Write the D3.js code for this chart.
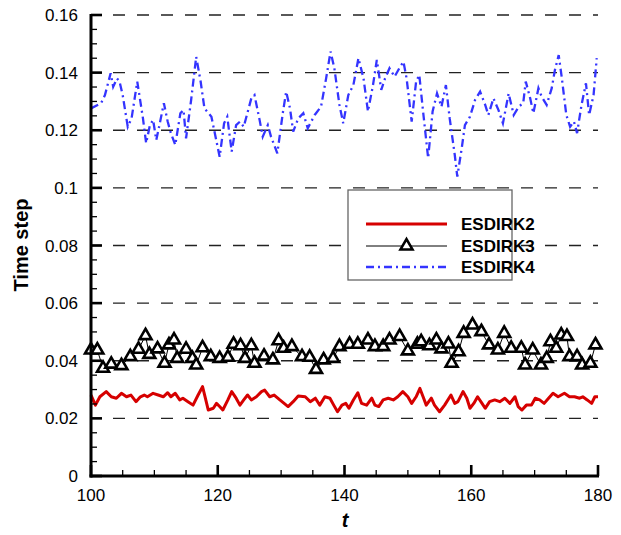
<!DOCTYPE html>
<html>
<head>
<meta charset="utf-8">
<script src="https://cdn.jsdelivr.net/npm/d3@7"></script>
<style>
  html, body { margin: 0; padding: 0; background: #fff; }
  svg { display: block; font-family: "Liberation Sans", Arial, Helvetica, sans-serif; }
</style>
</head>
<body>
<svg id="chart" width="621" height="535"></svg>
<script>
// Time step histories for the three ESDIRK schemes
const esdirk2T = [100,100.7,101.4,102.4,103.2,104.0,104.8,105.6,106.3,107.1,107.8,108.4,108.9,109.8,110.6,111.4,112.1,112.6,113.3,114.0,114.5,115.3,116.1,116.9,117.6,118.0,118.5,119.3,119.8,120.3,120.8,121.6,122.2,122.9,123.5,124.1,124.7,125.3,126.1,126.9,127.4,128.2,128.9,129.8,131.1,131.9,132.7,133.8,134.6,135.4,136.1,136.9,137.7,138.3,138.9,139.6,140.2,140.7,141.4,142.1,142.7,143.5,144.3,144.8,145.4,146.1,146.9,147.7,148.4,149.2,150.0,150.6,151.3,151.9,152.4,152.9,153.7,154.2,155.0,155.8,156.8,157.4,157.9,158.7,159.3,159.8,160.4,161.0,161.7,162.2,162.9,163.7,164.5,165.3,166.1,166.9,167.4,168.0,168.7,169.5,170.1,170.8,171.5,172.2,172.9,173.7,174.7,175.5,176.3,177.1,177.6,178.3,179.0,179.5,180.0];
const esdirk2 = [0.0281,0.0246,0.0275,0.0293,0.0275,0.0270,0.0287,0.0275,0.0281,0.0258,0.0275,0.0281,0.0275,0.0287,0.0281,0.0275,0.0289,0.0275,0.0287,0.0264,0.0270,0.0258,0.0246,0.0281,0.0310,0.0275,0.0229,0.0235,0.0252,0.0241,0.0229,0.0264,0.0293,0.0270,0.0246,0.0264,0.0281,0.0264,0.0275,0.0293,0.0298,0.0275,0.0281,0.0264,0.0241,0.0258,0.0278,0.0275,0.0258,0.0270,0.0246,0.0275,0.0270,0.0246,0.0223,0.0246,0.0252,0.0235,0.0264,0.0289,0.0252,0.0246,0.0270,0.0246,0.0241,0.0264,0.0270,0.0264,0.0275,0.0293,0.0275,0.0252,0.0275,0.0304,0.0275,0.0246,0.0270,0.0246,0.0223,0.0246,0.0281,0.0252,0.0258,0.0293,0.0270,0.0235,0.0252,0.0275,0.0252,0.0235,0.0258,0.0264,0.0258,0.0270,0.0252,0.0275,0.0241,0.0229,0.0246,0.0246,0.0270,0.0264,0.0252,0.0270,0.0287,0.0275,0.0287,0.0275,0.0275,0.0270,0.0275,0.0264,0.0252,0.0275,0.0275];

const esdirk3T = [100,101.0,101.9,103.2,104.8,106.2,107.5,108.6,109.2,110.5,111.6,112.3,113.1,113.6,115.0,116.0,116.6,117.6,118.9,120.3,121.6,122.5,123.6,124.3,125.3,125.8,127.3,128.7,129.6,130.4,131.7,133.3,134.5,135.5,136.7,138.2,139.2,140.8,142.1,143.7,144.8,146.1,147.1,148.7,150.0,151.5,152.1,153.4,154.5,155.3,156.4,156.9,158.0,158.8,160.2,161.6,162.8,164.2,165.2,166.3,167.9,168.5,169.7,171.0,171.9,172.5,173.4,174.2,175.1,175.5,176.7,177.5,178.8,179.6];
const esdirk3 = [0.0437,0.0437,0.0374,0.0388,0.0383,0.0414,0.0440,0.0487,0.0422,0.0441,0.0391,0.0455,0.0472,0.0408,0.0440,0.0408,0.0385,0.0445,0.0414,0.0408,0.0412,0.0457,0.0452,0.0408,0.0452,0.0391,0.0416,0.0403,0.0469,0.0443,0.0449,0.0414,0.0412,0.0370,0.0403,0.0408,0.0449,0.0457,0.0457,0.0472,0.0449,0.0449,0.0472,0.0484,0.0434,0.0457,0.0466,0.0452,0.0472,0.0441,0.0458,0.0391,0.0431,0.0495,0.0524,0.0501,0.0455,0.0437,0.0495,0.0443,0.0443,0.0385,0.0437,0.0385,0.0408,0.0466,0.0443,0.0489,0.0484,0.0414,0.0414,0.0385,0.0391,0.0455];

const esdirk4T = [100,101.6,102.2,103.1,103.5,104.1,104.5,105.0,105.8,106.4,107.3,108.2,108.7,109.3,109.8,110.3,110.8,111.5,112.1,112.6,113.3,114.1,114.6,115.0,115.8,116.6,117.3,117.9,119.0,120.3,121.0,121.5,122.2,122.9,123.5,124.1,125.3,125.8,126.6,127.1,127.9,128.4,129.4,130.3,130.8,131.4,131.9,132.7,133.5,134.2,135.3,136.3,137.1,137.8,138.4,139.2,139.8,140.6,141.4,142.2,143.0,143.7,144.5,145.1,145.8,146.4,147.1,147.9,148.8,149.3,149.8,150.6,151.3,151.8,152.4,153.2,153.9,154.6,155.3,156.0,156.6,157.4,157.8,158.5,159.0,159.8,160.6,161.4,162.2,162.7,163.5,164.3,165.0,165.9,166.7,167.5,168.2,168.6,169.3,169.8,170.6,171.1,171.9,172.7,173.2,173.8,174.3,175.0,175.6,176.2,176.7,177.4,178.1,178.6,179.3,179.8];
const esdirk4 = [0.1276,0.1294,0.1322,0.1398,0.1351,0.1380,0.1369,0.1322,0.1212,0.1241,0.1369,0.1241,0.1155,0.1218,0.1236,0.1166,0.1218,0.1294,0.1230,0.1190,0.1149,0.1259,0.1270,0.1172,0.1305,0.1455,0.1369,0.1276,0.1247,0.1108,0.1224,0.1247,0.1126,0.1218,0.1230,0.1212,0.1311,0.1322,0.1236,0.1178,0.1218,0.1178,0.1120,0.1265,0.1334,0.1276,0.1195,0.1241,0.1259,0.1207,0.1253,0.1282,0.1380,0.1473,0.1415,0.1288,0.1224,0.1322,0.1357,0.1450,0.1380,0.1265,0.1357,0.1444,0.1340,0.1380,0.1415,0.1386,0.1421,0.1438,0.1380,0.1230,0.1369,0.1392,0.1265,0.1103,0.1265,0.1328,0.1282,0.1357,0.1241,0.1114,0.1039,0.1138,0.1218,0.1247,0.1305,0.1334,0.1288,0.1253,0.1311,0.1270,0.1224,0.1328,0.1253,0.1282,0.1294,0.1369,0.1311,0.1259,0.1346,0.1317,0.1288,0.1346,0.1409,0.1461,0.1380,0.1253,0.1212,0.1230,0.1190,0.1288,0.1363,0.1253,0.1322,0.1450];

const xTicks = [100,120,140,160,180];
const yTicks = [0,0.02,0.04,0.06,0.08,0.1,0.12,0.14,0.16];
const yTickLabels = ["0","0.02","0.04","0.06","0.08","0.1","0.12","0.14","0.16"];
const seriesNames = ["ESDIRK2","ESDIRK3","ESDIRK4"];

const svg = d3.select("#chart");
const L = 91, R = 598, T = 15, B = 476;
const x = d3.scaleLinear().domain([100, 180]).range([L, R]);
const y = d3.scaleLinear().domain([0, 0.16]).range([B, T]);

// dashed horizontal grid
svg.append("g").selectAll("line")
  .data(yTicks.filter(d => d > 0))
  .join("line")
  .attr("x1", L).attr("x2", R)
  .attr("y1", d => y(d)).attr("y2", d => y(d))
  .attr("stroke", "#222").attr("stroke-width", 1.4)
  .attr("stroke-dasharray", "12,12").attr("stroke-dashoffset", 2);

// series
const zip = (ts, vs) => ts.map((t, i) => [t, vs[i]]);
const line = d3.line().x(d => x(d[0])).y(d => y(d[1]));

svg.append("path").datum(zip(esdirk2T, esdirk2))
  .attr("d", line).attr("fill", "none")
  .attr("stroke", "#d60000").attr("stroke-width", 3)
  .attr("stroke-linejoin", "round");

const d3pts = zip(esdirk3T, esdirk3);
svg.append("path").datum(d3pts)
  .attr("d", line).attr("fill", "none")
  .attr("stroke", "#000").attr("stroke-width", 1);

const tri = d3.symbol().type(d3.symbolTriangle).size(62);
svg.append("g").selectAll("path")
  .data(d3pts).join("path")
  .attr("d", tri)
  .attr("transform", d => `translate(${x(d[0])},${y(d[1])})`)
  .attr("fill", "#fff").attr("stroke", "#000").attr("stroke-width", 2.6)
  .attr("stroke-linejoin", "miter");

svg.append("path").datum(zip(esdirk4T, esdirk4))
  .attr("d", line).attr("fill", "none")
  .attr("stroke", "#3434ff").attr("stroke-width", 2.3)
  .attr("stroke-dasharray", "8,4,2,4");

// axes with inward ticks
const axisG = svg.append("g");
const yMinor = d3.range(0, 0.1601, 0.005).filter(v => Math.abs(Math.round(v / 0.02) * 0.02 - v) > 1e-6);
axisG.selectAll(".ymin").data(yMinor).join("line")
  .attr("x1", L).attr("x2", L + 6).attr("y1", d => y(d)).attr("y2", d => y(d))
  .attr("stroke", "#000").attr("stroke-width", 1.3);
axisG.selectAll(".ymaj").data(yTicks).join("line")
  .attr("x1", L).attr("x2", L + 11).attr("y1", d => y(d)).attr("y2", d => y(d))
  .attr("stroke", "#000").attr("stroke-width", 2.6);
const xMinor = d3.range(100, 180.1, 5).filter(v => v % 20 !== 0);
axisG.selectAll(".xmin").data(xMinor).join("line")
  .attr("x1", d => x(d)).attr("x2", d => x(d)).attr("y1", B).attr("y2", B - 6)
  .attr("stroke", "#000").attr("stroke-width", 1.3);
axisG.selectAll(".xmaj").data(xTicks).join("line")
  .attr("x1", d => x(d)).attr("x2", d => x(d)).attr("y1", B).attr("y2", B - 11)
  .attr("stroke", "#000").attr("stroke-width", 2.6);
axisG.append("line").attr("x1", L).attr("x2", L).attr("y1", T - 1).attr("y2", B + 1.5)
  .attr("stroke", "#000").attr("stroke-width", 3);
axisG.append("line").attr("x1", L - 1.5).attr("x2", R + 1).attr("y1", B).attr("y2", B)
  .attr("stroke", "#000").attr("stroke-width", 3);

// tick labels
axisG.selectAll(".ylab").data(yTicks).join("text")
  .attr("x", 78).attr("y", d => y(d) + 6)
  .attr("text-anchor", "end").attr("font-size", 17).text((d, i) => yTickLabels[i]);
axisG.selectAll(".xlab").data(xTicks).join("text")
  .attr("x", d => x(d)).attr("y", B + 25)
  .attr("text-anchor", "middle").attr("font-size", 17).text(d => d);

// axis titles
svg.append("text").attr("transform", "translate(28,245) rotate(-90)")
  .attr("text-anchor", "middle").attr("font-size", 20).attr("font-weight", "bold")
  .text("Time step");
svg.append("text").attr("x", 345).attr("y", 527)
  .attr("text-anchor", "middle").attr("font-size", 20).attr("font-weight", "bold")
  .attr("font-style", "italic").text("t");

// legend
const lg = svg.append("g");
lg.append("rect").attr("x", 348).attr("y", 190).attr("width", 164).attr("height", 90)
  .attr("fill", "#fff").attr("stroke", "#666").attr("stroke-width", 1.3);
const rowY = [224, 246, 267];
const styles = [
  {stroke: "#d60000", w: 3, dash: null},
  {stroke: "#000", w: 1, dash: null},
  {stroke: "#3434ff", w: 2.3, dash: "8,4,2,4"}
];
seriesNames.forEach((name, i) => {
  const s = styles[i];
  const ln = lg.append("line").attr("x1", 366).attr("x2", 447)
    .attr("y1", rowY[i]).attr("y2", rowY[i])
    .attr("stroke", s.stroke).attr("stroke-width", s.w);
  if (s.dash) ln.attr("stroke-dasharray", s.dash);
  if (i === 1) {
    lg.append("path").attr("d", tri)
      .attr("transform", `translate(406.5,${rowY[i]})`)
      .attr("fill", "#fff").attr("stroke", "#000").attr("stroke-width", 2.6);
  }
  lg.append("text").attr("x", 461).attr("y", rowY[i] + 6)
    .attr("font-size", 17).attr("font-weight", "bold").text(name);
});
</script>
</body>
</html>
